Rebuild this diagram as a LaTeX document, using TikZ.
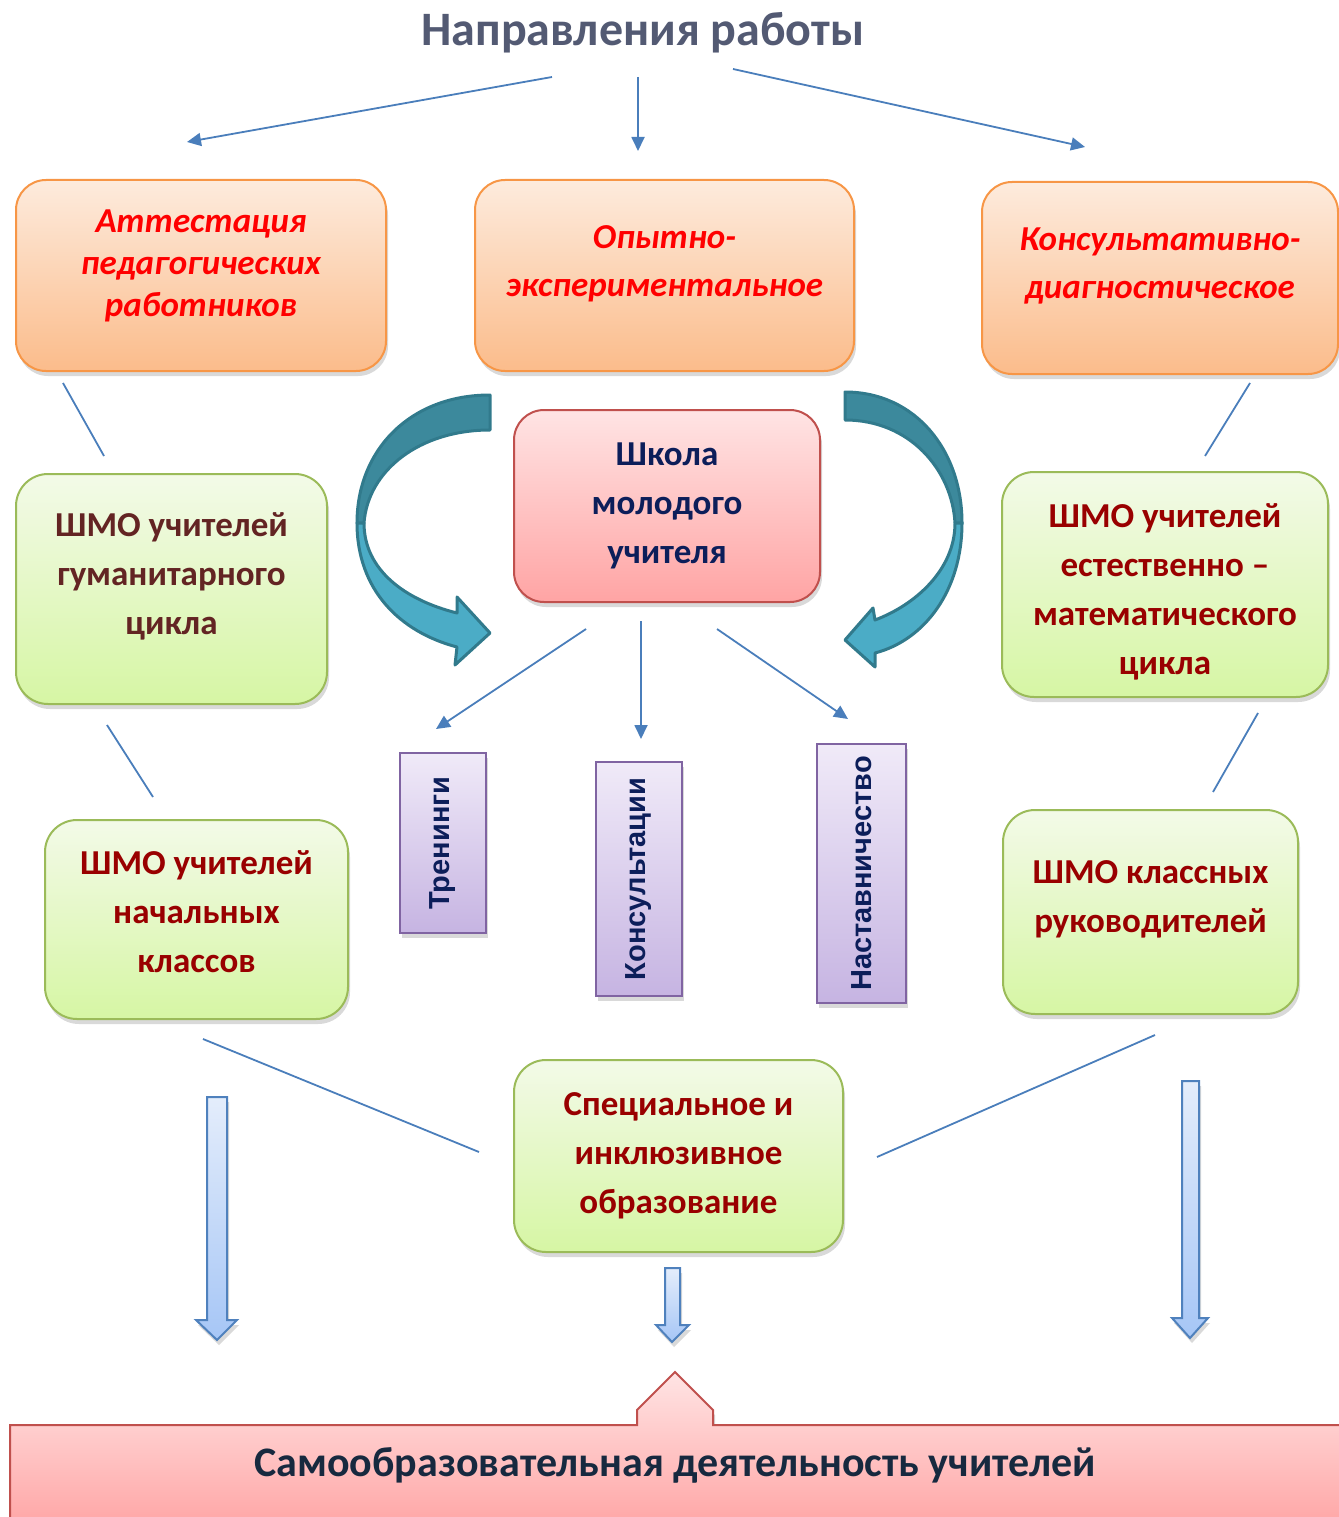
\documentclass[tikz,border=0pt]{standalone}
\usepackage{fontspec}
\setmainfont{Carlito}
\newfontfamily\arialfont{Liberation Sans}
\usetikzlibrary{arrows.meta,shadows}

\definecolor{titlegray}{RGB}{83,90,115}
\definecolor{lineblue}{RGB}{74,126,187}
\definecolor{orangetop}{RGB}{253,235,221}
\definecolor{orangebot}{RGB}{251,188,139}
\definecolor{orangeedge}{RGB}{247,150,70}
\definecolor{greentop}{RGB}{243,250,232}
\definecolor{greenbot}{RGB}{214,246,164}
\definecolor{greenedge}{RGB}{155,187,89}
\definecolor{pinktop}{RGB}{255,228,228}
\definecolor{pinkbot}{RGB}{255,164,164}
\definecolor{pinkedge}{RGB}{192,80,77}
\definecolor{purpletop}{RGB}{240,234,248}
\definecolor{purplebot}{RGB}{198,180,226}
\definecolor{purpleedge}{RGB}{128,100,162}
\definecolor{navy}{RGB}{12,30,90}
\definecolor{slatenavy}{RGB}{23,41,63}
\definecolor{darkred}{RGB}{153,0,0}
\definecolor{brownred}{RGB}{99,36,35}
\definecolor{tealdark}{RGB}{60,137,156}
\definecolor{teallight}{RGB}{75,172,198}
\definecolor{tealedge}{RGB}{49,122,140}
\definecolor{arrowtop}{RGB}{228,237,251}
\definecolor{arrowbot}{RGB}{166,198,246}
\definecolor{arrowedge}{RGB}{79,129,189}

\tikzstyle{line} = [draw=lineblue, line width=1.8pt]
\tikzstyle{arrow} = [line, -{Triangle[length=14pt,width=13pt]}]
\tikzstyle{softshadow} = [drop shadow={shadow xshift=2pt, shadow yshift=-5pt, opacity=0.3}]
\tikzstyle{orangebox} = [softshadow, draw=orangeedge, line width=2pt, rounded corners=30pt, top color=orangetop, bottom color=orangebot]
\tikzstyle{orangetext} = [align=center, text=red, font=\fontsize{35}{48}\selectfont\bfseries\itshape]
\tikzstyle{greenbox} = [softshadow, draw=greenedge, line width=2pt, rounded corners=32pt, top color=greentop, bottom color=greenbot]
\tikzstyle{greentext} = [align=center, text=darkred, font=\fontsize{35}{49}\selectfont\bfseries]
\tikzstyle{pinkbox} = [softshadow, draw=pinkedge, line width=2pt, rounded corners=30pt, top color=pinktop, bottom color=pinkbot, align=center, text=navy, font=\fontsize{35}{49}\selectfont\bfseries]
\tikzstyle{purplebox} = [softshadow, draw=purpleedge, line width=2pt, top color=purpletop, bottom color=purplebot, text=navy, font=\fontsize{29}{30}\selectfont\arialfont\bfseries]
\tikzstyle{curvedarrow} = [draw=tealedge, line width=3pt, line join=round]
\tikzstyle{blockarrow} = [softshadow, draw=arrowedge, line width=2pt, top color=arrowtop, bottom color=arrowbot]

\begin{document}
\begin{tikzpicture}[x=1pt, y=-1pt]
\useasboundingbox (0,0) rectangle (1338,1517);

\node (title) [text=titlegray, font=\fontsize{48}{52}\selectfont\bfseries] at (643,33) {Направления работы};

% top row
\node (attest) [orangebox, minimum width=370pt, minimum height=191pt] at (201,275.5) {};
\node (attest-txt) [orangetext] at ([yshift=10pt]attest.center) {Аттестация\\[-6pt]педагогических\\[-6pt]работников};
\node (opyt) [orangebox, minimum width=379pt, minimum height=191pt] at (664.5,275.5) {};
\node (opyt-txt) [orangetext] at ([yshift=12pt]opyt.center) {Опытно-\\экспериментальное};
\node (konsult) [orangebox, minimum width=356pt, minimum height=192pt] at (1160,278) {};
\node (konsult-txt) [orangetext] at ([yshift=12pt]konsult.center) {Консультативно-\\диагностическое};

% middle
\node (school) [pinkbox, minimum width=306pt, minimum height=192pt] at (667,506) {Школа\\молодого\\учителя};
\node (gum) [greenbox, minimum width=311pt, minimum height=230pt] at (171.5,589) {};
\node (gum-txt) [greentext, text=brownred] at ([yshift=12.5pt]gum.center) {ШМО учителей\\гуманитарного\\цикла};
\node (estmat) [greenbox, minimum width=326pt, minimum height=225pt] at (1165,584.5) {};
\node (estmat-txt) [greentext] at ([yshift=-7pt]estmat.center) {ШМО учителей\\естественно –\\математического\\цикла};

\node (train) [purplebox, minimum width=86pt, minimum height=180pt] at (443,843) {\rotatebox{90}{Тренинги}};
\node (consult) [purplebox, minimum width=86pt, minimum height=234pt] at (639,879) {\rotatebox{90}{Консультации}};
\node (mentor) [purplebox, minimum width=89pt, minimum height=259pt] at (861.5,873.5) {\rotatebox{90}{Наставничество}};

\node (nach) [greenbox, minimum width=303pt, minimum height=199pt] at (196.5,919.5) {};
\node (nach-txt) [greentext] at ([yshift=8pt]nach.center) {ШМО учителей\\начальных\\классов};
\node (klass) [greenbox, minimum width=295pt, minimum height=204pt] at (1150.5,912) {};
\node (klass-txt) [greentext] at ([yshift=13pt]klass.center) {ШМО классных\\руководителей};
\node (spec) [greenbox, greentext, minimum width=329pt, minimum height=192pt] at (678.5,1156) {Специальное и\\инклюзивное\\образование};

% arrows from the title
\draw [arrow] ([xshift=-91pt,yshift=-44pt]title.center) -- ([xshift=-14pt,yshift=37pt]attest.north);
\draw [arrow] ([xshift=-5pt,yshift=-44pt]title.center) -- ([xshift=-26.5pt,yshift=28pt]opyt.north);
\draw [arrow] ([xshift=90pt,yshift=-36pt]title.center) -- ([xshift=-75pt,yshift=34pt]konsult.north);

% links between the boxes
\draw [line] ([xshift=-138pt,yshift=-11pt]attest.south) -- ([xshift=-67.5pt,yshift=17pt]gum.north);
\draw [line] ([xshift=90pt,yshift=-8pt]konsult.south) -- ([xshift=40pt,yshift=15pt]estmat.north);
\draw [line] ([xshift=-64.5pt,yshift=-20pt]gum.south) -- ([xshift=-43.5pt,yshift=22pt]nach.north);
\draw [line] ([xshift=93pt,yshift=-15pt]estmat.south) -- ([xshift=62.5pt,yshift=17pt]klass.north);
\draw [line] ([xshift=6.5pt,yshift=-19pt]nach.south) -- ([xshift=-34pt,yshift=4pt]spec.west);
\draw [line] ([xshift=4.5pt,yshift=-20pt]klass.south) -- ([xshift=33pt,yshift=-1pt]spec.east);

% arrows from the school
\draw [arrow] ([xshift=-81pt,yshift=-26pt]school.south) -- ([xshift=-7pt,yshift=23pt]train.north);
\draw [arrow] ([xshift=-26pt,yshift=-18pt]school.south) -- ([xshift=2pt,yshift=22pt]consult.north);
\draw [arrow] ([xshift=50pt,yshift=-26pt]school.south) -- ([xshift=-13.5pt,yshift=24pt]mentor.north);

% curved arrows
\draw [curvedarrow, fill=tealdark] (490,395) .. controls (410,395) and (357,450) .. (357,523) -- (364,523) .. controls (368,470) and (420,430) .. (490,430) -- cycle;
\draw [curvedarrow, fill=teallight] (357,523) .. controls (357,590) and (400,632) .. (457,647) -- (455,665) -- (490,633) -- (457,597) -- (457,613) .. controls (405,600) and (364,570) .. (364,523) -- cycle;
\draw [curvedarrow, fill=tealdark] (845,392) .. controls (915,392) and (962,450) .. (962,523) -- (955,523) .. controls (952,470) and (910,420) .. (845,420) -- cycle;
\draw [curvedarrow, fill=teallight] (962,523) .. controls (962,590) and (925,640) .. (875,653) -- (875,667) -- (845,640) -- (873,608) -- (875,620) .. controls (915,605) and (955,570) .. (955,523) -- cycle;

% block arrows
\draw [blockarrow] (207,1097) -- (227,1097) -- (227,1320) -- (237,1320) -- (217,1340) -- (196,1320) -- (207,1320) -- cycle;
\draw [blockarrow] (665,1268) -- (680,1268) -- (680,1325) -- (689,1325) -- (672,1342) -- (656,1325) -- (665,1325) -- cycle;
\draw [blockarrow] (1182,1081) -- (1199,1081) -- (1199,1318) -- (1208,1318) -- (1190,1338) -- (1172,1318) -- (1182,1318) -- cycle;

% bottom callout
\draw [softshadow, draw=pinkedge, line width=2pt, top color=pinktop, bottom color=pinkbot] (10,1530) -- (10,1425) -- (637,1425) -- (637,1410) -- (675,1372) -- (713,1410) -- (713,1425) -- (1350,1425) -- (1350,1530);
\node (selfedu) [text=slatenavy, font=\fontsize{42}{44}\selectfont\bfseries] at (675,1465) {Самообразовательная деятельность учителей};

\end{tikzpicture}
\end{document}
